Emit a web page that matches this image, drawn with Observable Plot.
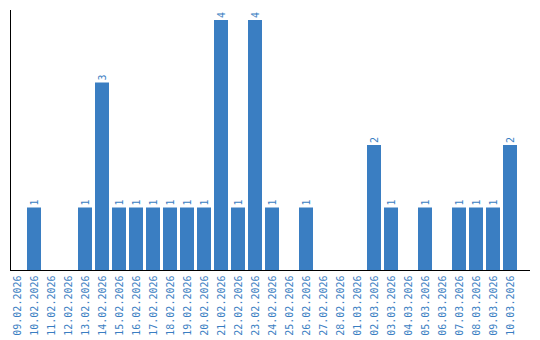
<!DOCTYPE html>
<html>
<head>
<meta charset="utf-8">
<script src="https://cdn.jsdelivr.net/npm/d3@7"></script>
<script src="https://cdn.jsdelivr.net/npm/@observablehq/plot@0.6"></script>
<style>
  html, body { margin: 0; padding: 0; background: #fff; }
  #chart svg { display: block; }
</style>
</head>
<body>
<div id="chart"></div>
<script>
const dates = [
  "09.02.2026","10.02.2026","11.02.2026","12.02.2026","13.02.2026","14.02.2026",
  "15.02.2026","16.02.2026","17.02.2026","18.02.2026","19.02.2026","20.02.2026",
  "21.02.2026","22.02.2026","23.02.2026","24.02.2026","25.02.2026","26.02.2026",
  "27.02.2026","28.02.2026","01.03.2026","02.03.2026","03.03.2026","04.03.2026",
  "05.03.2026","06.03.2026","07.03.2026","08.03.2026","09.03.2026","10.03.2026"
];
const counts = [
  0,1,0,0,1,3,
  1,1,1,1,1,1,
  4,1,4,1,0,1,
  0,0,0,2,1,0,
  1,0,1,1,1,2
];

const blue = "#3a7ec2";
const data = dates.map((d, i) => ({date: d, value: counts[i]}));
const nonZero = data.filter(d => d.value > 0);

const chart = Plot.plot({
  width: 540,
  height: 340,
  marginLeft: 8.5,
  marginRight: 21.5,
  marginTop: 10,
  marginBottom: 70,
  style: {fontFamily: "'DejaVu Sans Mono', monospace", fontSize: "10px", background: "#fff"},
  x: {type: "band", domain: dates, padding: 0.18, paddingOuter: 0.09, label: null},
  y: {domain: [0, 4.16], axis: null},
  marks: [
    Plot.barY(data, {x: "date", y: "value", fill: blue}),
    Plot.text(nonZero, {x: "date", y: "value", text: d => String(d.value), rotate: -90,
      textAnchor: "start", dy: -2.5, fill: blue, fontSize: 10}),
    Plot.axisX({tickRotate: -90, tickSize: 0, tickPadding: 5, fill: blue, fontSize: 10, label: null}),
    Plot.ruleY([0], {stroke: "#000", strokeWidth: 1, insetRight: -11.5, insetLeft: 1.5}),
    Plot.frame({anchor: "left", stroke: "#000", dx: 1.5})
  ]
});
document.getElementById("chart").appendChild(chart);
</script>
</body>
</html>
